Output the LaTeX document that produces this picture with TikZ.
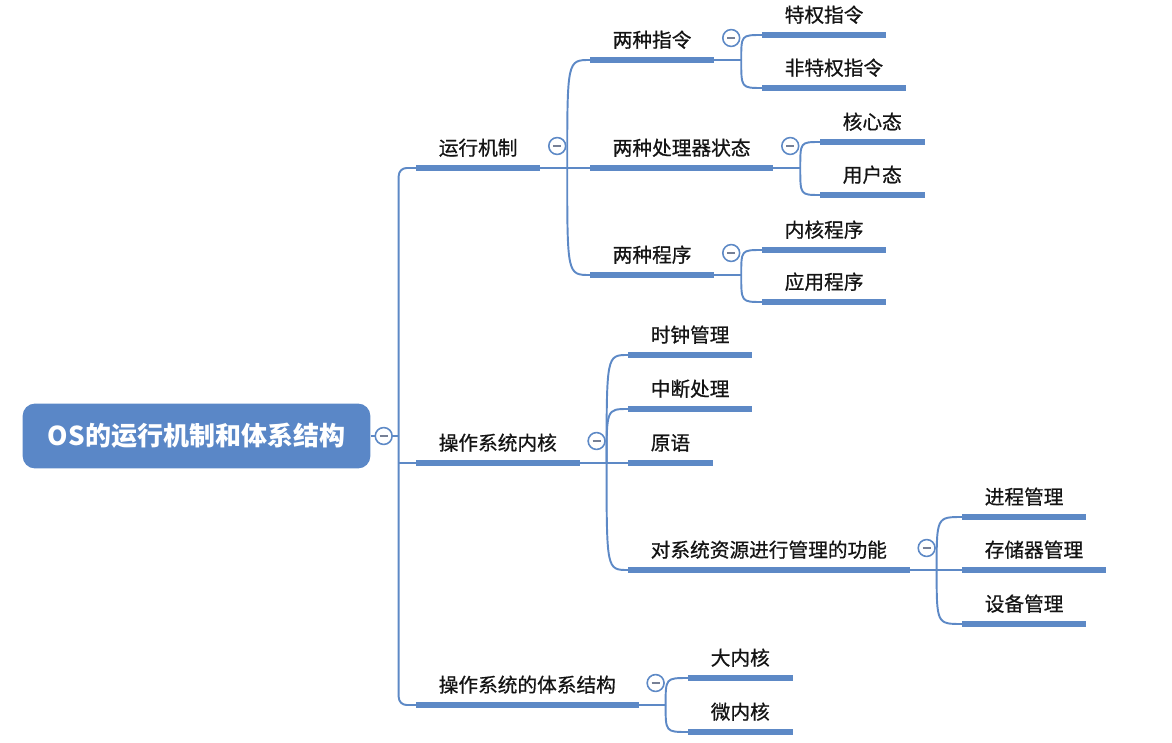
\documentclass[tikz,border=0pt]{standalone}
\usepackage{fontspec}
\newfontfamily\cjk[FakeBold=0.7]{Noto Sans CJK SC}
\newfontfamily\cjkroot{Noto Sans CJK SC}
\definecolor{mapblue}{RGB}{93,137,198}
\definecolor{rootblue}{RGB}{90,135,199}
\definecolor{foldgray}{RGB}{118,128,150}

\tikzset{
  topic/.style={anchor=south west, inner xsep=12.75pt, inner ysep=5.9pt,
    text height=0.84em, text depth=0.12em, text=black!92,
    font=\cjk\fontsize{11.2pt}{13pt}\selectfont},
  rootbox/.style={rounded corners=7pt, fill=rootblue, text=white,
    minimum width=197.9pt, minimum height=36.9pt,
    font=\cjkroot\bfseries\fontsize{14.8pt}{17pt}\selectfont},
  bar/.style={mapblue, line width=3pt},
  link/.style={mapblue, line width=1.1pt},
  fold/.style={circle, draw=mapblue, fill=white, line width=0.9pt,
    minimum size=9.6pt, inner sep=0pt,
    path picture={\draw[foldgray, line width=0.8pt]
      ([xshift=-2.3pt]path picture bounding box.center) --
      ([xshift=2.3pt]path picture bounding box.center);}}
}

\begin{document}
\begin{tikzpicture}[x=0.02cm, y=-0.02cm]
    \useasboundingbox (0,0) rectangle (1172,743);
    % root
    \node[rootbox] (os) at (196.5,436) {OS的运行机制和体系结构};
    % first level
    \node[topic] (run) at (416,168) {运行机制};
    \node[topic] (kern) at (416,463) {操作系统内核};
    \node[topic] (arch) at (416,705) {操作系统的体系结构};
    % run
    \node[topic] (instr) at (590,60) {两种指令};
    \node[topic] (cpu) at (590,168) {两种处理器状态};
    \node[topic] (prog) at (590,275) {两种程序};
    \node[topic] (priv) at (762,35) {特权指令};
    \node[topic] (npriv) at (762,88) {非特权指令};
    \node[topic] (kst) at (820,142) {核心态};
    \node[topic] (ust) at (820,195) {用户态};
    \node[topic] (kprog) at (762,250) {内核程序};
    \node[topic] (aprog) at (762,302) {应用程序};
    % kern
    \node[topic] (clock) at (628,355) {时钟管理};
    \node[topic] (intr) at (628,409) {中断处理};
    \node[topic] (prim) at (628,463) {原语};
    \node[topic] (res) at (628,570) {对系统资源进行管理的功能};
    \node[topic] (proc) at (962,517) {进程管理};
    \node[topic] (mem) at (962,570) {存储器管理};
    \node[topic] (dev) at (962,624) {设备管理};
    % arch
    \node[topic] (mono) at (688,678) {大内核};
    \node[topic] (micro) at (688,732) {微内核};

    \foreach \n in {run,kern,arch,instr,cpu,prog,priv,npriv,kst,ust,kprog,aprog,
                    clock,intr,prim,res,proc,mem,dev,mono,micro}
        \draw[bar] (\n.south west) -- (\n.south east);

    % trunk
    \coordinate (trunk) at ([shift={(28,0)}]os.east);
    \draw[link] (os.east) -- (trunk);
    \draw[link, rounded corners=4.5pt] (run.south west) -| (trunk) |- (arch.south west);
    \draw[link] (trunk |- kern.south west) -- (kern.south west);
    \node[fold] (fos) at ([shift={(13,0)}]os.east) {};

    % branches
    \foreach \p/\cs in {run/{instr,cpu,prog}, instr/{priv,npriv}, cpu/{kst,ust},
                        prog/{kprog,aprog}, kern/{clock,intr,prim,res},
                        res/{proc,mem,dev}, arch/{mono,micro}} {
        \coordinate (j\p) at ([shift={(27,0)}]\p.south east);
        \draw[link] (\p.south east) -- (j\p);
        \foreach \c in \cs
            \draw[link] (j\p) .. controls (j\p |- \c.south west) .. (\c.south west);
        \node[fold] (f\p) at ([shift={(17,-22)}]\p.south east) {};
    }
\end{tikzpicture}
\end{document}
